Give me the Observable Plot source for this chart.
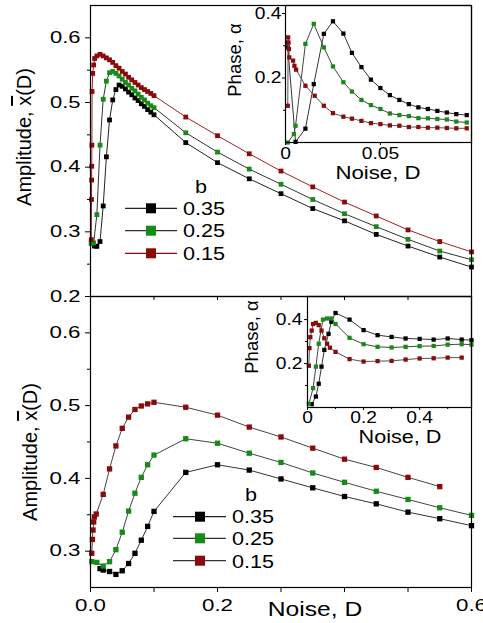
<!DOCTYPE html>
<html><head><meta charset="utf-8">
<script src="https://cdn.jsdelivr.net/npm/d3@7"></script>
<script src="https://cdn.jsdelivr.net/npm/@observablehq/plot@0.6"></script>
<style>
html,body{margin:0;padding:0;background:#fff;}
#chart{position:relative;width:483px;height:623px;overflow:hidden;font-family:"Liberation Sans",Arial,sans-serif;}
#chart svg{position:absolute;left:0;top:0;}
</style></head>
<body><div id="chart"></div>
<script>
// ---------- data ----------
const bLabels = ["0.35", "0.25", "0.15"];

// Top panel: amplitude vs noise
const topD_035 = [0.006,0.01,0.015,0.02,0.025,0.03,0.035,0.04,0.045,0.05,0.055,0.06,0.065,0.07,0.075,0.08,0.085,0.09,0.095,0.1,0.15,0.2,0.25,0.3,0.35,0.4,0.45,0.5,0.55,0.6];
const topA_035 = [0.278,0.2775,0.285,0.34,0.416,0.473,0.504,0.52,0.527,0.525,0.521,0.516,0.512,0.507,0.503,0.498,0.494,0.489,0.485,0.481,0.438,0.407,0.382,0.359,0.336,0.317,0.296,0.278,0.261,0.2455];
const topD_025 = [0.001,0.005,0.01,0.015,0.02,0.025,0.03,0.035,0.04,0.045,0.05,0.055,0.06,0.065,0.07,0.075,0.08,0.085,0.09,0.095,0.1,0.15,0.2,0.25,0.3,0.35,0.4,0.45,0.5,0.55,0.6];
const topA_025 = [0.282,0.283,0.3266,0.434,0.505,0.533,0.546,0.548,0.545,0.541,0.536,0.531,0.527,0.522,0.518,0.513,0.508,0.504,0.499,0.495,0.492,0.4532,0.4233,0.397,0.3736,0.35,0.328,0.308,0.2884,0.2703,0.2569];
const topD_015 = [0.0012,0.0016,0.0018,0.002,0.0022,0.0025,0.0035,0.005,0.0065,0.01,0.015,0.02,0.025,0.03,0.035,0.04,0.045,0.05,0.055,0.06,0.065,0.07,0.075,0.08,0.085,0.09,0.095,0.1,0.15,0.2,0.25,0.3,0.35,0.4,0.45,0.5,0.55,0.6];
const topA_015 = [0.288,0.35,0.38,0.4015,0.434,0.517,0.545,0.558,0.568,0.572,0.5745,0.572,0.569,0.566,0.562,0.557,0.553,0.548,0.544,0.539,0.535,0.531,0.527,0.523,0.52,0.517,0.514,0.5106,0.4775,0.4486,0.4207,0.394,0.3695,0.346,0.3245,0.303,0.285,0.269];

// Top inset: phase vs noise
const tinD_035 = [0.001,0.0012,0.0053,0.0105,0.0149,0.0202,0.025,0.0305,0.035,0.04,0.045,0.05,0.055,0.06,0.065,0.07,0.075,0.08,0.085,0.09,0.0955];
const tinP_035 = [0.31,0.295,0.002,0.043,0.181,0.337,0.376,0.338,0.278,0.234,0.195,0.169,0.147,0.132,0.119,0.109,0.104,0.098,0.093,0.088,0.085];
const tinD_025 = [0.0012,0.0044,0.0053,0.0105,0.0149,0.0202,0.025,0.0305,0.035,0.04,0.045,0.05,0.055,0.06,0.065,0.07,0.075,0.08,0.085,0.09,0.0955];
const tinP_025 = [0.0,0.026,0.052,0.306,0.368,0.295,0.236,0.187,0.158,0.132,0.116,0.104,0.09,0.085,0.082,0.0755,0.075,0.073,0.0714,0.065,0.062];
const tinD_015 = [0.0012,0.0014,0.0016,0.0018,0.002,0.004,0.0047,0.0056,0.0105,0.0154,0.0202,0.025,0.0305,0.035,0.04,0.045,0.05,0.055,0.06,0.065,0.07,0.075,0.08,0.085,0.09,0.0955];
const tinP_015 = [0.114,0.326,0.31,0.29,0.264,0.254,0.238,0.226,0.176,0.145,0.114,0.091,0.08,0.074,0.067,0.06,0.057,0.053,0.052,0.048,0.048,0.046,0.046,0.045,0.044,0.044];

// Bottom panel: amplitude vs noise
const botD_035 = [0.015,0.02,0.03,0.04,0.05,0.06,0.07,0.08,0.09,0.1,0.15,0.2,0.25,0.3,0.35,0.4,0.45,0.5,0.55,0.6];
const botA_035 = [0.276,0.274,0.272,0.268,0.273,0.283,0.297,0.315,0.334,0.3546,0.4082,0.4187,0.4114,0.3992,0.387,0.3751,0.365,0.3536,0.3446,0.335];
const botD_025 = [0.002,0.01,0.02,0.03,0.04,0.05,0.06,0.07,0.08,0.09,0.1,0.15,0.2,0.25,0.3,0.35,0.4,0.45,0.5,0.55,0.6];
const botA_025 = [0.2855,0.2845,0.2795,0.2855,0.302,0.326,0.355,0.3796,0.4014,0.4187,0.432,0.4545,0.4483,0.4346,0.4219,0.4074,0.3946,0.3823,0.371,0.3596,0.3491];
const botD_015 = [0.002,0.003,0.004,0.005,0.006,0.009,0.02,0.03,0.04,0.05,0.06,0.07,0.08,0.09,0.1,0.15,0.2,0.25,0.3,0.35,0.4,0.45,0.5,0.55];
const botA_015 = [0.297,0.316,0.329,0.34,0.347,0.351,0.378,0.413,0.4446,0.4688,0.4842,0.4947,0.4995,0.5024,0.5046,0.4978,0.4869,0.4705,0.4569,0.4415,0.4264,0.415,0.4014,0.3887];

// Bottom inset: phase vs noise
const binD_035 = [0.015,0.03,0.04,0.05,0.06,0.075,0.085,0.1,0.15,0.2,0.25,0.3,0.35,0.4,0.45,0.5,0.55,0.585];
const binP_035 = [0.015,0.05,0.108,0.186,0.262,0.335,0.39,0.43,0.4,0.352,0.329,0.321,0.314,0.312,0.309,0.314,0.309,0.306];
const binD_025 = [0.005,0.02,0.03,0.04,0.055,0.07,0.085,0.1,0.15,0.2,0.25,0.3,0.35,0.4,0.45,0.5,0.55,0.585];
const binP_025 = [0.017,0.088,0.186,0.29,0.4,0.405,0.405,0.38,0.317,0.288,0.276,0.273,0.276,0.279,0.28,0.286,0.288,0.286];
const binD_015 = [0.005,0.007,0.01,0.015,0.02,0.03,0.04,0.05,0.06,0.07,0.08,0.1,0.15,0.2,0.25,0.3,0.35,0.4,0.45,0.5,0.55];
const binP_015 = [0.19,0.27,0.32,0.35,0.38,0.385,0.375,0.35,0.315,0.29,0.272,0.253,0.22,0.209,0.211,0.212,0.218,0.223,0.224,0.227,0.227];

// tick values
const mainXTicks = [0, 0.1, 0.2, 0.3, 0.4, 0.5, 0.6];
const mainXLabeled = [0, 0.2, 0.6];
const topYMajor = [0.2, 0.3, 0.4, 0.5, 0.6];
const topYMinor = [0.25, 0.35, 0.45, 0.55];
const botYMajor = [0.3, 0.4, 0.5, 0.6];
const botYMinor = [0.35, 0.45, 0.55];
const tinXTicks = [0, 0.05];
const tinYMajor = [0.2, 0.4];
const tinYMinor = [0.1, 0.3];
const binXTicks = [0, 0.2, 0.4];
const binXMinor = [0.1, 0.3, 0.5];
const binYMajor = [0.2, 0.4];
const binYMinor = [0.1, 0.3];

// ---------- styling ----------
const W = 483, H = 623;
const FONT = '"Liberation Sans", Arial, Helvetica, sans-serif';
const fillC = {"0.35": "#000000", "0.25": "#178a17", "0.15": "#8b0a0a"};
const host = document.getElementById("chart");

function rows(D, V) { return D.map((d, i) => ({D: d, v: V[i]})); }

function seriesMarks(list, r) {
  const m = [];
  for (const s of list) {
    const data = rows(s.D, s.V);
    m.push(Plot.line(data, {x: "D", y: "v", stroke: s.line, strokeWidth: 1}));
    m.push(Plot.dot(data, {x: "D", y: "v", symbol: "square", r, fill: fillC[s.b], stroke: "none"}));
  }
  return m;
}

function makePlot({box, xDomain, yDomain, marks, fontSize}) {
  const [x0, x1, y0, y1] = box;
  return Plot.plot({
    width: W, height: H,
    marginLeft: x0, marginRight: W - x1, marginTop: y0, marginBottom: H - y1,
    x: {domain: xDomain}, y: {domain: yDomain},
    style: {background: "transparent", overflow: "visible", fontFamily: FONT, fontSize: fontSize + "px", color: "#000"},
    marks
  });
}

const fmt1 = d3.format(".1f");
const fmtPlain = d3.format("");

// Top main panel
const pTop = makePlot({
  box: [90, 471, 5, 296], xDomain: [0, 0.6], yDomain: [0.2, 0.65], fontSize: 16.5,
  marks: [
    ...seriesMarks([
      {b: "0.35", D: topD_035, V: topA_035, line: "#222"},
      {b: "0.25", D: topD_025, V: topA_025, line: "#333"},
      {b: "0.15", D: topD_015, V: topA_015, line: "#9b2525"}
    ], 2.7),
    Plot.axisY(topYMajor, {tickSize: 5, tickPadding: 5, tickFormat: fmt1, label: null}),
    Plot.axisY(topYMinor, {tickSize: 3, tickFormat: () => "", label: null}),
    Plot.axisX(mainXTicks, {tickSize: 4, tickFormat: () => "", label: null}),
    Plot.frame({stroke: "#000", strokeWidth: 1.2})
  ]
});

// Bottom main panel
const pBot = makePlot({
  box: [90, 471, 296, 587], xDomain: [0, 0.6], yDomain: [0.25, 0.65], fontSize: 16.5,
  marks: [
    ...seriesMarks([
      {b: "0.35", D: botD_035, V: botA_035, line: "#333"},
      {b: "0.25", D: botD_025, V: botA_025, line: "#444"},
      {b: "0.15", D: botD_015, V: botA_015, line: "#444"}
    ], 3),
    Plot.axisY(botYMajor, {tickSize: 5, tickPadding: 5, tickFormat: fmt1, label: null}),
    Plot.axisY(botYMinor, {tickSize: 3, tickFormat: () => "", label: null}),
    Plot.axisX(mainXTicks, {tickSize: 5, tickPadding: 7, tickFormat: d => mainXLabeled.includes(d) ? fmt1(d) : "", label: null}),
    Plot.frame({stroke: "#000", strokeWidth: 1.2})
  ]
});

// Top inset
const pTin = makePlot({
  box: [285, 471, 5, 142], xDomain: [0, 0.098], yDomain: [0, 0.425], fontSize: 16,
  marks: [
    ...seriesMarks([
      {b: "0.35", D: tinD_035, V: tinP_035, line: "#333"},
      {b: "0.25", D: tinD_025, V: tinP_025, line: "#444"},
      {b: "0.15", D: tinD_015, V: tinP_015, line: "#555"}
    ], 2.4),
    Plot.axisY(tinYMajor, {tickSize: 3, tickPadding: 1, tickFormat: fmt1, label: null}),
    Plot.axisY(tinYMinor, {tickSize: 2, tickFormat: () => "", label: null}),
    Plot.axisX(tinXTicks, {tickSize: 3, tickPadding: 2, tickFormat: fmtPlain, label: null}),
    Plot.frame({stroke: "#000", strokeWidth: 1.2})
  ]
});

// Bottom inset
const pBin = makePlot({
  box: [307, 471, 296, 407], xDomain: [0, 0.585], yDomain: [0, 0.505], fontSize: 16,
  marks: [
    ...seriesMarks([
      {b: "0.35", D: binD_035, V: binP_035, line: "#333"},
      {b: "0.25", D: binD_025, V: binP_025, line: "#444"},
      {b: "0.15", D: binD_015, V: binP_015, line: "#555"}
    ], 2.4),
    Plot.axisY(binYMajor, {tickSize: 3, tickPadding: 2, tickFormat: fmt1, label: null}),
    Plot.axisY(binYMinor, {tickSize: 2, tickFormat: () => "", label: null}),
    Plot.axisX(binXTicks, {tickSize: 3, tickPadding: 1.5, tickFormat: fmtPlain, label: null}),
    Plot.axisX(binXMinor, {tickSize: 2, tickFormat: () => "", label: null}),
    Plot.frame({stroke: "#000", strokeWidth: 1.2})
  ]
});

[pTop, pBot, pTin, pBin].forEach(p => host.appendChild(p));

// ---------- overlay: titles & legends ----------
const ov = d3.create("svg").attr("width", W).attr("height", H)
  .attr("font-family", FONT).attr("fill", "#000").style("overflow", "visible");

function ampLabel(x, y) {
  const t = ov.append("text").attr("class", "nostretch")
    .attr("transform", `translate(${x},${y}) rotate(-90)`)
    .attr("text-anchor", "middle").attr("font-size", 20);
  t.append("tspan").text("Amplitude, ");
  t.append("tspan").style("text-decoration", "overline").text("x");
  t.append("tspan").text("(D)");
}
ampLabel(31, 137);
ampLabel(37, 452);

function rotLabel(txt, x, y, fs) {
  ov.append("text").attr("class", "nostretch")
    .attr("transform", `translate(${x},${y}) rotate(-90)`)
    .attr("text-anchor", "middle").attr("font-size", fs).text(txt);
}
rotLabel("Phase, α", 241, 60, 18.5);
rotLabel("Phase, α", 258, 337, 18.5);

function hLabel(txt, x, y, fs) {
  ov.append("text").attr("x", x).attr("y", y).attr("text-anchor", "middle")
    .attr("font-size", fs).text(txt);
}
hLabel("Noise, D", 315, 616, 20.5);
hLabel("Noise, D", 378, 179, 18.5);
hLabel("Noise, D", 400, 443, 18);

function legend(bx, by, lx1, lx2, mx, tx, rowY, rowBase, lineCols) {
  ov.append("text").attr("x", bx).attr("y", by).attr("text-anchor", "middle").attr("font-size", 18).text("b");
  bLabels.forEach((lab, i) => {
    ov.append("line").attr("x1", lx1).attr("x2", lx2).attr("y1", rowY[i]).attr("y2", rowY[i])
      .attr("stroke", lineCols[i]).attr("stroke-width", 1.2);
    ov.append("rect").attr("x", mx - 5).attr("y", rowY[i] - 5).attr("width", 10).attr("height", 10)
      .attr("fill", fillC[lab]);
    ov.append("text").attr("x", tx).attr("y", rowBase[i]).attr("font-size", 18).text(lab);
  });
}
legend(201, 193, 125, 177, 151, 183, [208.3, 230.7, 253.3], [214.8, 237.2, 259.6], ["#222", "#333", "#8b0a0a"]);
legend(251, 501, 173, 226, 200, 232, [516.7, 538.3, 560.7], [522.5, 545, 567.5], ["#222", "#333", "#333"]);

host.appendChild(ov.node());

// emulate the horizontally stretched lettering of the reference
function stretch(root, k) {
  root.querySelectorAll("text").forEach(t => {
    if (t.classList.contains("nostretch")) return;
    if (!t.textContent) return;
    const L = t.getComputedTextLength();
    if (L > 0) { t.setAttribute("textLength", (L * k).toFixed(2)); t.setAttribute("lengthAdjust", "spacingAndGlyphs"); }
  });
}
stretch(pTop, 1.33);
stretch(pBot, 1.35);
stretch(pTin, 1.2);
stretch(pBin, 1.2);
stretch(ov.node(), 1.2);
</script>
</body></html>
